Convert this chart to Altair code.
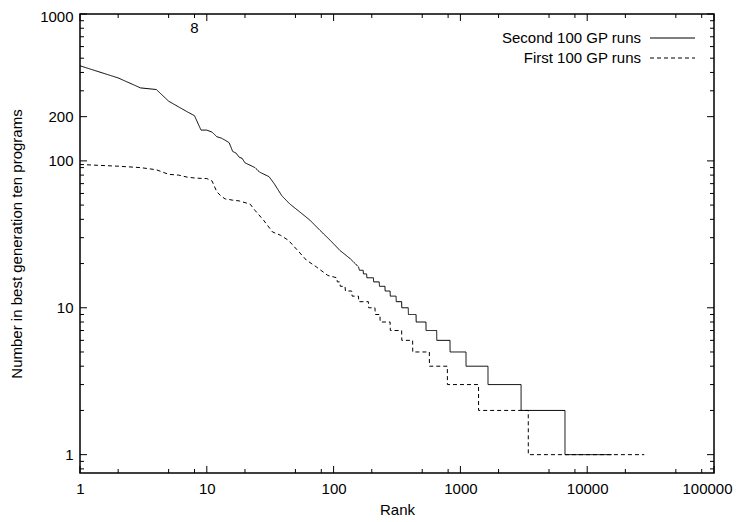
import altair as alt
import pandas as pd

# ---- data ----
series_names = ["Second 100 GP runs", "First 100 GP runs"]

second_rank = [1, 2, 3, 4, 5, 6, 7, 8, 9, 10, 11, 12, 13, 14, 15, 16, 17, 18, 19, 20,
               24, 26, 31, 34, 39, 45, 54, 65, 78, 94, 112, 135, 157,
               160, 171, 172, 182, 183, 206, 207, 229, 230, 254, 255, 279, 280, 311,
               312, 344, 345, 388, 389, 447, 448, 535, 536, 650, 651, 828, 829, 1107,
               1108, 1650, 1651, 3010, 3011, 6680, 6681, 15600]
second_count = [444, 367, 314, 306, 255, 233, 216, 203, 162, 162, 157, 146, 143, 138, 133, 116, 113, 106, 104, 97,
                90, 84, 78, 70, 58, 51, 45, 39.5, 33.7, 28.8, 24.6, 21.6, 19,
                18, 18, 17, 17, 16, 16, 15, 15, 14, 14, 13, 13, 12, 12,
                11, 11, 10, 10, 9, 9, 8, 8, 7, 7, 6, 6, 5, 5,
                4, 4, 3, 3, 2, 2, 1, 1]

first_rank = [1, 2, 3, 4, 5, 6, 7, 8, 9, 10, 11, 12, 13, 14, 15, 16, 17, 18, 19, 20,
              22, 24, 28, 33, 38, 44, 52, 61, 73, 90, 106,
              107, 112, 113, 123, 124, 139, 140, 157, 158, 188, 189, 212, 213, 232,
              233, 279, 280, 344, 345, 420, 421, 569, 570, 789, 790, 1390, 1391, 3430,
              3431, 28200]
first_count = [94.5, 92, 90, 87, 81, 80, 77.5, 76.5, 76, 75.8, 73, 61.5, 57.5, 55, 54.6, 54, 53.7, 53.4, 52.6, 52,
               50.7, 46, 39.5, 32.8, 31.2, 28.8, 24.6, 21.1, 19, 16.6, 16,
               15, 15, 14, 14, 13, 13, 12, 12, 11, 11, 10, 10, 9, 9,
               8, 8, 7, 7, 6, 6, 5, 5, 4, 4, 3, 3, 2, 2,
               1, 1]

x_tick_labels = [1, 10, 100, 1000, 10000, 100000]
x_minor_ticks = [2, 5, 8, 20, 50, 80, 200, 500, 800, 2000, 5000, 8000, 20000, 50000, 80000]
y_tick_labels = [1, 10, 100, 200, 1000]
y_minor_ticks = [0.8, 0.9, 2, 3, 4, 5, 6, 7, 8, 9, 20, 30, 40, 50, 60, 70, 80, 90,
                 300, 400, 500, 600, 700, 800, 900]

W, H = 634, 459
FONT = "Liberation Sans"
FS = 15

df = pd.concat([
    pd.DataFrame({"rank": second_rank, "count": second_count, "series": series_names[0]}),
    pd.DataFrame({"rank": first_rank, "count": first_count, "series": series_names[1]}),
])

xscale = alt.Scale(type="log", domain=[1, 100000], nice=False)
yscale = alt.Scale(type="log", domain=[0.75, 1000], nice=False)

x_axis = alt.Axis(values=x_tick_labels, format="d", ticks=False, domain=False, grid=False,
                  labelPadding=8, titlePadding=6, labelFlush=False, title="Rank",
                  labelOffset=alt.condition("datum.value == 100000", alt.value(-7), alt.value(0)))
y_axis = alt.Axis(values=y_tick_labels, format="d", ticks=False, domain=False, grid=False,
                  labelPadding=7, titlePadding=15, labelFlush=False,
                  title="Number in best generation ten programs",
                  labelOffset=alt.condition("datum.value == 1000", alt.value(2), alt.value(0)))

lines = alt.Chart(df).mark_line(color="black", strokeWidth=1, clip=True).encode(
    x=alt.X("rank:Q", scale=xscale, axis=x_axis, title="Rank"),
    y=alt.Y("count:Q", scale=yscale, axis=y_axis, title="Number in best generation ten programs"),
    strokeDash=alt.StrokeDash("series:N", scale=alt.Scale(domain=series_names, range=[[1, 0], [4, 3]]),
                              legend=None),
)

def xticks(vals, length):
    d = pd.DataFrame({"rank": vals})
    bottom = alt.Chart(d).mark_rule(color="black", strokeWidth=1).encode(
        x=alt.X("rank:Q", scale=xscale, axis=x_axis, title="Rank"), y=alt.value(H), y2=alt.value(H - length))
    top = alt.Chart(d).mark_rule(color="black", strokeWidth=1).encode(
        x=alt.X("rank:Q", scale=xscale, axis=x_axis, title="Rank"), y=alt.value(0), y2=alt.value(length))
    return [bottom, top]

def yticks(vals, length):
    d = pd.DataFrame({"count": vals})
    left = alt.Chart(d).mark_rule(color="black", strokeWidth=1).encode(
        y=alt.Y("count:Q", scale=yscale, axis=y_axis, title="Number in best generation ten programs"),
        x=alt.value(0), x2=alt.value(length))
    right = alt.Chart(d).mark_rule(color="black", strokeWidth=1).encode(
        y=alt.Y("count:Q", scale=yscale, axis=y_axis, title="Number in best generation ten programs"),
        x=alt.value(W), x2=alt.value(W - length))
    return [left, right]

tick_layers = (xticks(x_tick_labels, 7) + xticks(x_minor_ticks, 4)
               + yticks(y_tick_labels, 7) + yticks(y_minor_ticks, 4))

one = pd.DataFrame({"rank": [8]})
eight = alt.Chart(one).mark_text(font=FONT, fontSize=FS, color="black", baseline="middle").encode(
    x=alt.X("rank:Q", scale=xscale, axis=x_axis, title="Rank"), y=alt.value(14), text=alt.value("8"))

legend_layers = []
for i, (name, dash) in enumerate(zip(series_names, [[1, 0], [4, 3]])):
    ypos = 24 + 20 * i
    legend_layers.append(
        alt.Chart(pd.DataFrame({"label": [name]})).mark_text(
            font=FONT, fontSize=FS, align="right", baseline="middle", color="black").encode(
            x=alt.value(561), y=alt.value(ypos), text="label:N"))
    legend_layers.append(
        alt.Chart(pd.DataFrame({"label": [name]})).mark_rule(
            color="black", strokeWidth=1, strokeDash=dash).encode(
            x=alt.value(570), x2=alt.value(615), y=alt.value(ypos)))

chart = alt.layer(lines, *tick_layers, eight, *legend_layers).properties(
    width=W, height=H,
    autosize=alt.AutoSizeParams(type="none"),
    padding={"left": 72, "top": 6, "right": 19, "bottom": 44},
).configure_view(
    stroke="black", strokeWidth=1.5
).configure_axis(
    labelFont=FONT, titleFont=FONT, labelFontSize=FS, titleFontSize=FS,
    labelColor="black", titleColor="black", titleFontWeight="normal",
)

chart.save("out.html", embed_options={"renderer": "svg", "actions": False})
